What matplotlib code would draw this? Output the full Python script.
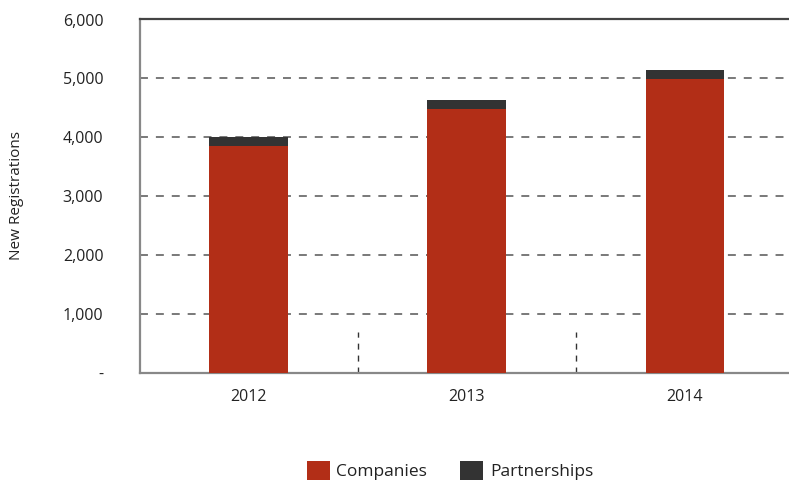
import matplotlib
matplotlib.use("Agg")
import matplotlib.pyplot as plt
from matplotlib.ticker import FuncFormatter

plt.rcParams['font.family'] = ['Open Sans', 'DejaVu Sans']

# Annual new registrations by business type
years = ["2012", "2013", "2014"]
companies = [3850, 4480, 4990]
partnerships = [160, 150, 150]
y_ticks = [0, 1000, 2000, 3000, 4000, 5000, 6000]

red = "#B22E17"
dark = "#333333"

fig = plt.figure(figsize=(7.89, 4.86), dpi=100)
ax = fig.add_axes([139.5 / 789, 113.3 / 486, 654.5 / 789, 353.2 / 486])

x = list(range(len(years)))
width = 0.36
b1 = ax.bar(x, companies, width, color=red, zorder=3, label="Companies")
b2 = ax.bar(x, partnerships, width, bottom=companies, color=dark, zorder=3,
            label="Partnerships")

ax.set_xlim(-0.5, len(years) - 0.5)
ax.set_ylim(0, 6000)
ax.set_yticks(y_ticks)
ax.yaxis.set_major_formatter(FuncFormatter(lambda v, p: "-" if v == 0 else f"{int(v):,}"))
ax.set_xticks(x)
ax.set_xticklabels(years)
ax.tick_params(axis="both", length=0, labelsize=11.5, colors="#222222")
ax.tick_params(axis="y", pad=26)
ax.tick_params(axis="x", pad=12)

# Horizontal dashed gridlines
for v in y_ticks[1:-1]:
    ax.axhline(v, color="#6e6e6e", lw=1.3, dashes=(4.4, 4.4), zorder=1)

# Short dashed separators between categories
for s in [i + 0.5 for i in x[:-1]]:
    ax.plot([s, s], [0, 690], color=dark, lw=1.0, dashes=(4.3, 4.3), zorder=2)

ax.spines["right"].set_visible(False)
ax.spines["top"].set_color("#444444")
ax.spines["top"].set_linewidth(1.6)
ax.spines["left"].set_color("#888888")
ax.spines["left"].set_linewidth(1.6)
ax.spines["bottom"].set_color("#888888")
ax.spines["bottom"].set_linewidth(1.6)

fig.text(17 / 789, 1 - 196 / 486, "New Registrations", rotation=90,
         ha="center", va="center", fontsize=11, color="#222222")

fig.legend(handles=[b1, b2], labels=["Companies", "Partnerships"], ncol=2,
           loc="upper left", bbox_to_anchor=(291 / 789, 1 - 445 / 486),
           frameon=False, fontsize=12.5, handlelength=1.32, handleheight=1.32,
           columnspacing=1.9, handletextpad=0.4, labelcolor="#222222")

fig.savefig("out.png", dpi=100)
